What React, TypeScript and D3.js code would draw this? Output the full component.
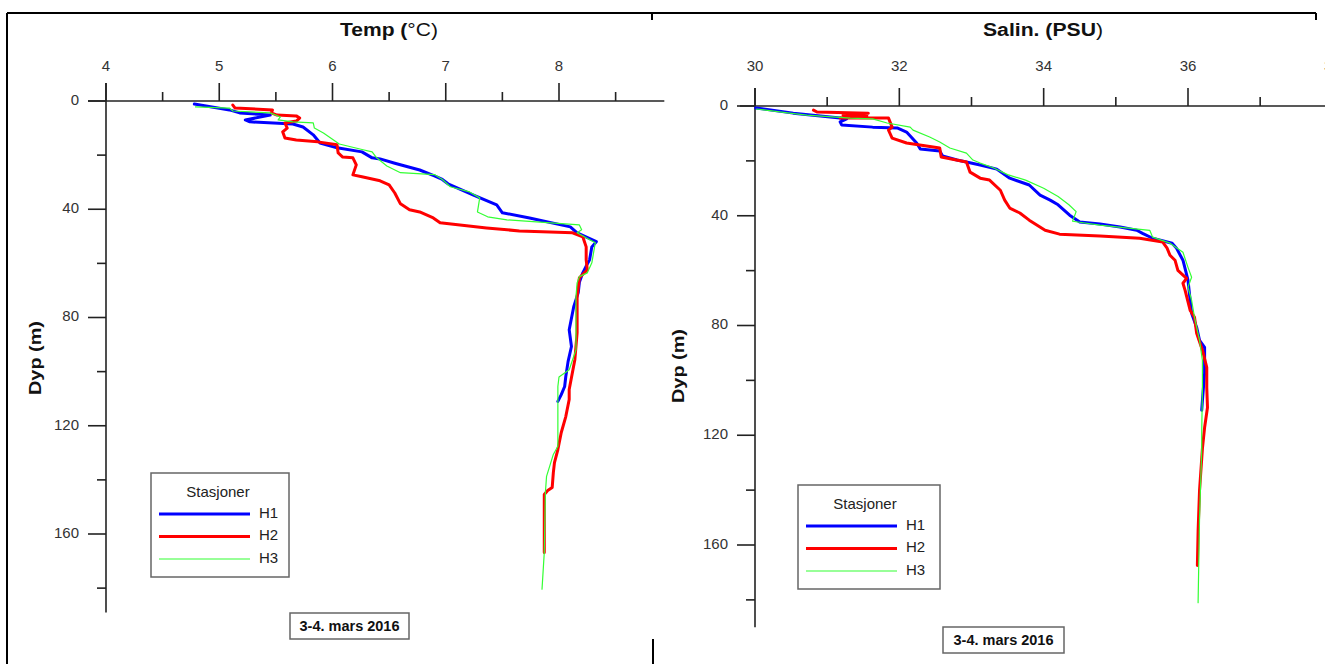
import React from 'react';
import * as d3 from 'd3';

// ---------- DATA ----------
const stations = ['H1', 'H2', 'H3'];
const stationColors = ['#0000ff', '#ff0000', '#33ff33'];
const stationWidths = [3, 3, 1.2];

const tempTicks = [4, 5, 6, 7, 8];
const tempMinorTicks = [4.5, 5.5, 6.5, 7.5, 8.5];
const salTicks = [30, 32, 34, 36, 38];
const salMinorTicks = [31, 33, 35, 37];
const depthTicks = [0, 40, 80, 120, 160];
const depthMinorTicks = [20, 60, 100, 140, 180];

// [temperature, depth]
const tempH1: [number, number][] = [
  [4.78, 1.1], [5.09, 3.3], [5.18, 4.4], [5.45, 5.2], [5.23, 7.0], [5.27, 7.7], [5.65, 8.5], [5.74, 9.6],
  [5.83, 12.5], [5.89, 15.5], [6.04, 17.3], [6.26, 18.8], [6.35, 21.0], [6.42, 21.4], [6.55, 23], [6.77, 25.5],
  [6.9, 27.7], [6.97, 29], [7.02, 30.6], [7.24, 34.7], [7.45, 38.4], [7.5, 41.3], [7.74, 43.2], [8.1, 46.5],
  [8.16, 48.7], [8.33, 52], [8.29, 53.9], [8.27, 58.7], [8.24, 61], [8.21, 63.5], [8.18, 67], [8.17, 70.8],
  [8.13, 76], [8.09, 84.5], [8.11, 90.7], [8.08, 96.3], [8.06, 101.8], [8.05, 105.5], [8.02, 108.5], [7.99, 111],
];
const tempH2: [number, number][] = [
  [5.12, 1.5], [5.14, 2.6], [5.47, 3.3], [5.46, 4.4], [5.51, 5.2], [5.68, 5.5], [5.71, 6.3], [5.68, 7.4],
  [5.58, 8.1], [5.6, 10], [5.56, 11.4], [5.58, 13.7], [5.68, 14.4], [5.87, 15.1], [6.04, 16.2], [6.05, 19.2],
  [6.09, 20.7], [6.18, 21], [6.21, 23.6], [6.18, 27.3], [6.26, 28], [6.42, 29.5], [6.5, 31], [6.55, 34],
  [6.6, 38], [6.68, 40.2], [6.77, 41], [6.89, 43.2], [6.95, 45], [7.36, 46.9], [7.65, 48], [8.12, 48.7],
  [8.21, 50.2], [8.24, 53.9], [8.24, 58.7], [8.25, 62.4], [8.18, 65.3], [8.16, 72.3], [8.16, 85.6], [8.14, 95.6],
  [8.09, 106.6], [8.09, 110.3], [8.06, 116.6], [8.02, 122.5], [7.99, 128.8], [7.96, 133.6], [7.95, 137.3],
  [7.94, 142.8], [7.9, 143.9], [7.87, 145.4], [7.87, 166.8],
];
const tempH3: [number, number][] = [
  [4.79, 2.2], [5.09, 2.6], [5.12, 3.7], [5.45, 4.4], [5.54, 5.9], [5.52, 7], [5.65, 7.7], [5.83, 8.1],
  [5.84, 10], [5.92, 11.8], [6.06, 15.9], [6.27, 18], [6.35, 18.8], [6.39, 21], [6.48, 24], [6.6, 26.5],
  [6.9, 27.2], [6.97, 29], [7.04, 31.7], [7.21, 33.6], [7.3, 35.8], [7.28, 41], [7.37, 42.8], [7.54, 43.9],
  [8.18, 45.8], [8.2, 47.6], [8.16, 48.7], [8.32, 52.4], [8.29, 59.8], [8.25, 63.5], [8.18, 64.9], [8.16, 67.2],
  [8.15, 72.3], [8.15, 91.9], [8.09, 99.3], [8.0, 102], [7.99, 105.5], [7.99, 127.6], [7.95, 130.6],
  [7.89, 138.7], [7.88, 144.6], [7.87, 166.8], [7.85, 180.4],
];

// [salinity, depth]
const salH1: [number, number][] = [
  [30.01, 0.7], [30.53, 2.6], [31.18, 4.4], [31.27, 4.7], [31.18, 5.8], [31.2, 6.9], [31.63, 7.7], [31.97, 8.0],
  [32.1, 9.5], [32.24, 13.5], [32.29, 15.7], [32.56, 16.4], [32.6, 18.2], [32.8, 19.7], [33.12, 21.5], [33.35, 23],
  [33.53, 26.3], [33.8, 28.8], [33.95, 32.5], [34.09, 34.3], [34.2, 36], [34.36, 39.8], [34.5, 42.3], [34.78, 43],
  [35.06, 44.1], [35.29, 45.3], [35.37, 46.4], [35.51, 48.2], [35.78, 50], [35.84, 51.8], [35.93, 56.2],
  [36.0, 63.5], [36.03, 70.8], [36.05, 75.5], [36.12, 80.7], [36.16, 85.4], [36.23, 88], [36.23, 97.4],
  [36.2, 107.3], [36.19, 110.9],
];
const salH2: [number, number][] = [
  [30.81, 1.5], [30.86, 2.2], [31.57, 2.6], [31.22, 3.3], [31.55, 3.6], [31.18, 4.4], [31.85, 4.4], [31.9, 7.7],
  [31.85, 8.8], [31.9, 11.7], [32.1, 13.5], [32.56, 15.3], [32.58, 18.6], [32.93, 20.4], [32.98, 24.1],
  [33.12, 26.3], [33.25, 27], [33.4, 30.7], [33.46, 34.3], [33.53, 37.2], [33.67, 39], [33.8, 41.6],
  [34.02, 45.3], [34.22, 46.7], [34.78, 47.4], [35.33, 48.2], [35.65, 49.6], [35.71, 51.8], [35.75, 54.4],
  [35.82, 56.2], [35.86, 59.9], [35.98, 62.8], [35.93, 64.6], [35.96, 67.2], [36.03, 74.5], [36.09, 77],
  [36.12, 82.8], [36.2, 89], [36.26, 95.3], [36.26, 102.6], [36.27, 109.9], [36.23, 117.2], [36.2, 124.8],
  [36.16, 140], [36.14, 155], [36.13, 167.5],
];
const salH3: [number, number][] = [
  [30.02, 1.1], [30.48, 2.6], [30.72, 3.3], [31.32, 4.4], [31.63, 4.7], [31.83, 6.2], [32.15, 7.7], [32.19, 8.8],
  [32.42, 11.3], [32.56, 13.1], [32.7, 15.3], [32.93, 17.2], [33.02, 19.7], [33.12, 20.8], [33.3, 22.5],
  [33.5, 25], [33.75, 27], [34.0, 30], [34.2, 33], [34.35, 36], [34.45, 38.5], [34.4, 42], [34.78, 43.4],
  [35.47, 45.3], [35.51, 47.8], [35.75, 50], [35.93, 53.3], [36.0, 58.8], [36.05, 62.4], [36.0, 66],
  [36.05, 70.8], [36.09, 77], [36.16, 85.4], [36.2, 92.7], [36.2, 102.6], [36.19, 119.3], [36.19, 125.5],
  [36.16, 150], [36.14, 181],
];

const tempSeries = [tempH1, tempH2, tempH3];
const salSeries = [salH1, salH2, salH3];

const dateLabel = '3-4. mars 2016';
const depthLabel = 'Dyp (m)';
const legendTitle = 'Stasjoner';

// ---------- CHART ----------
const FONT = "'Liberation Sans', Arial, Helvetica, sans-serif";
const AX = '#222';

type PanelProps = {
  x: d3.ScaleLinear<number, number>;
  y: d3.ScaleLinear<number, number>;
  xMax: number;
  yMax: number;
  xTicks: number[];
  xMinor: number[];
  series: [number, number][][];
  xAxisLeft: number;
  titleBold: string;
  titleNormal: string;
  titleX: number;
  titleWidth: number;
  depthLabelX: number;
  depthLabelY: number;
  legend: { x: number; y: number; w: number; h: number };
  dateBox: { x: number; y: number; w: number; h: number };
};

function Panel(p: PanelProps) {
  const { x, y } = p;
  const x0 = x.range()[0];
  const y0 = y.range()[0];
  const line = d3
    .line<[number, number]>()
    .x((d) => x(d[0]))
    .y((d) => y(d[1]));
  const lg = p.legend;
  return (
    <g>
      {/* title */}
      <text
        x={p.titleX}
        y={31}
        textAnchor="middle"
        dominantBaseline="middle"
        fontFamily={FONT}
        fontSize={18}
        fill="#111"
        textLength={p.titleWidth}
        lengthAdjust="spacingAndGlyphs"
      >
        <tspan fontWeight="bold">{p.titleBold}</tspan>
        <tspan>{p.titleNormal}</tspan>
      </text>
      {/* x axis */}
      <line x1={p.xAxisLeft} x2={x(p.xMax)} y1={y0} y2={y0} stroke={AX} strokeWidth={1.6} />
      {p.xTicks.map((t) => (
        <g key={'xt' + t}>
          <line x1={x(t)} x2={x(t)} y1={y0} y2={y0 - 18} stroke={AX} strokeWidth={1.6} />
          <text x={x(t)} y={67} textAnchor="middle" dominantBaseline="middle" fontFamily={FONT} fontSize={15} fill="#333">
            {t}
          </text>
        </g>
      ))}
      {p.xMinor.map((t) => (
        <line key={'xm' + t} x1={x(t)} x2={x(t)} y1={y0} y2={y0 - 9} stroke={AX} strokeWidth={1.6} />
      ))}
      {/* y axis */}
      <line x1={x0} x2={x0} y1={y0 - 18} y2={y(p.yMax)} stroke={AX} strokeWidth={1.6} />
      {depthTicks.map((t) => (
        <g key={'yt' + t}>
          <line x1={x0 - 18} x2={x0} y1={y(t)} y2={y(t)} stroke={AX} strokeWidth={1.6} />
          <text x={x0 - 27} y={y(t)} textAnchor="end" dominantBaseline="middle" fontFamily={FONT} fontSize={15} fill="#333">
            {t}
          </text>
        </g>
      ))}
      {depthMinorTicks.map((t) => (
        <line key={'ym' + t} x1={x0 - 9} x2={x0} y1={y(t)} y2={y(t)} stroke={AX} strokeWidth={1.6} />
      ))}
      <text
        transform={`translate(${p.depthLabelX},${p.depthLabelY}) rotate(-90)`}
        textAnchor="middle"
        dominantBaseline="middle"
        fontFamily={FONT}
        fontSize={17}
        fontWeight="bold"
        fill="#111"
        textLength={74}
        lengthAdjust="spacingAndGlyphs"
      >
        {depthLabel}
      </text>
      {/* series: draw H3 first so thick ones on top? reference draws H3 on top */}
      {[0, 1, 2].map((i) => (
        <path
          key={'s' + i}
          d={line(p.series[i]) || ''}
          fill="none"
          stroke={stationColors[i]}
          strokeWidth={stationWidths[i]}
          strokeLinejoin="round"
          strokeLinecap="round"
        />
      ))}
      {/* legend */}
      <rect x={lg.x} y={lg.y} width={lg.w} height={lg.h} fill="#fff" stroke="#666" strokeWidth={1.5} />
      <text x={lg.x + 67} y={lg.y + 20} textAnchor="middle" dominantBaseline="middle" fontFamily={FONT} fontSize={15} fill="#222">
        {legendTitle}
      </text>
      {stations.map((s, i) => (
        <g key={'lg' + s}>
          <line
            x1={lg.x + 8}
            x2={lg.x + 99}
            y1={lg.y + 41 + i * 22.5}
            y2={lg.y + 41 + i * 22.5}
            stroke={stationColors[i]}
            strokeWidth={stationWidths[i]}
          />
          <text x={lg.x + 108} y={lg.y + 41 + i * 22.5} dominantBaseline="middle" fontFamily={FONT} fontSize={15} fill="#222">
            {s}
          </text>
        </g>
      ))}
      {/* date box */}
      <rect x={p.dateBox.x} y={p.dateBox.y} width={p.dateBox.w} height={p.dateBox.h} fill="#fff" stroke="#666" strokeWidth={1.5} />
      <text
        x={p.dateBox.x + p.dateBox.w / 2}
        y={p.dateBox.y + p.dateBox.h / 2 + 1}
        textAnchor="middle"
        dominantBaseline="middle"
        fontFamily={FONT}
        fontSize={14.5}
        fontWeight="bold"
        fill="#111"
      >
        {dateLabel}
      </text>
    </g>
  );
}

export default function App() {
  const xT = d3.scaleLinear().domain([4, 8]).range([106, 559]);
  const yT = d3.scaleLinear().domain([0, 160]).range([101, 534]);
  const xS = d3.scaleLinear().domain([30, 36]).range([755, 1188]);
  const yS = d3.scaleLinear().domain([0, 160]).range([106, 545]);

  return (
    <svg
      width={1325}
      height={664}
      style={{ position: 'absolute', left: 0, top: 0, background: '#fff' }}
    >
      <rect x={0} y={0} width={1325} height={664} fill="#fff" />
      {/* outer frame */}
      <line x1={7} x2={1316} y1={13} y2={13} stroke="#000" strokeWidth={2} />
      <line x1={7} x2={7} y1={13} y2={664} stroke="#000" strokeWidth={2} />
      <line x1={652} x2={652} y1={13} y2={20} stroke="#000" strokeWidth={2} />
      <line x1={1316} x2={1316} y1={13} y2={20} stroke="#000" strokeWidth={2} />
      <line x1={653} x2={653} y1={639} y2={664} stroke="#000" strokeWidth={2} />

      <Panel
        x={xT}
        y={yT}
        xMax={8.93}
        yMax={189}
        xTicks={tempTicks}
        xMinor={tempMinorTicks}
        series={tempSeries}
        xAxisLeft={88}
        titleBold="Temp ("
        titleNormal="°C)"
        titleX={389}
        titleWidth={98}
        depthLabelX={37}
        depthLabelY={358}
        legend={{ x: 151, y: 473, w: 138, h: 104 }}
        dateBox={{ x: 290, y: 613, w: 119, h: 26 }}
      />
      <Panel
        x={xS}
        y={yS}
        xMax={38.2}
        yMax={190}
        xTicks={salTicks}
        xMinor={salMinorTicks}
        series={salSeries}
        xAxisLeft={740}
        titleBold="Salin. (PSU"
        titleNormal=")"
        titleX={1043}
        titleWidth={120}
        depthLabelX={680}
        depthLabelY={366}
        legend={{ x: 798, y: 485, w: 142, h: 104 }}
        dateBox={{ x: 943, y: 627, w: 121, h: 26 }}
      />
    </svg>
  );
}
